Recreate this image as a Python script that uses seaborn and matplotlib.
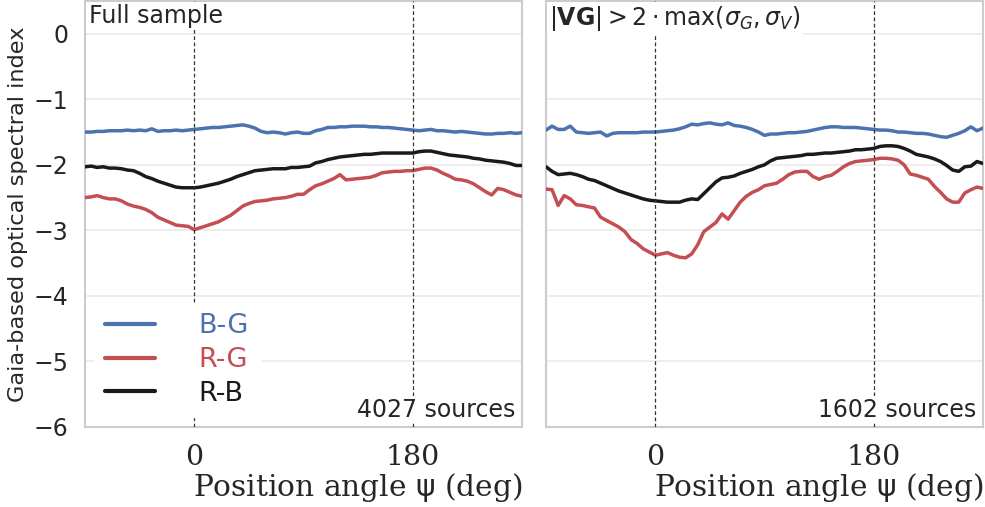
import matplotlib
matplotlib.use("Agg")
import matplotlib.pyplot as plt
import numpy as np
import seaborn as sns

# position angle grid (deg), one value every 5 deg
ANGLE = np.arange(-90, 271, 5)

# Full sample
full_bg = [-1.50, -1.50, -1.49, -1.49, -1.48, -1.48, -1.48, -1.47, -1.48, -1.47,
           -1.48, -1.45, -1.49, -1.48, -1.48, -1.47, -1.48, -1.47, -1.46, -1.45,
           -1.44, -1.43, -1.43, -1.42, -1.41, -1.40, -1.39, -1.41, -1.44, -1.49,
           -1.51, -1.50, -1.51, -1.53, -1.51, -1.50, -1.52, -1.52, -1.48, -1.46,
           -1.43, -1.43, -1.42, -1.42, -1.41, -1.41, -1.41, -1.42, -1.42, -1.43,
           -1.43, -1.44, -1.45, -1.46, -1.47, -1.48, -1.47, -1.46, -1.48, -1.48,
           -1.49, -1.50, -1.49, -1.50, -1.51, -1.52, -1.53, -1.53, -1.52, -1.52,
           -1.51, -1.52, -1.51]
full_rg = [-2.50, -2.49, -2.47, -2.50, -2.52, -2.52, -2.55, -2.60, -2.63, -2.65,
           -2.68, -2.73, -2.80, -2.84, -2.88, -2.92, -2.93, -2.94, -2.99, -2.96,
           -2.93, -2.90, -2.87, -2.82, -2.77, -2.70, -2.63, -2.59, -2.56, -2.55,
           -2.54, -2.52, -2.51, -2.50, -2.48, -2.45, -2.45, -2.38, -2.32, -2.29,
           -2.25, -2.21, -2.15, -2.23, -2.22, -2.21, -2.20, -2.19, -2.16, -2.12,
           -2.11, -2.10, -2.10, -2.09, -2.09, -2.07, -2.05, -2.05, -2.08, -2.13,
           -2.17, -2.22, -2.23, -2.25, -2.29, -2.35, -2.41, -2.46, -2.36, -2.38,
           -2.42, -2.46, -2.48]
full_rb = [-2.03, -2.02, -2.04, -2.03, -2.05, -2.05, -2.06, -2.08, -2.09, -2.13,
           -2.18, -2.21, -2.25, -2.28, -2.31, -2.34, -2.35, -2.35, -2.35, -2.34,
           -2.32, -2.30, -2.28, -2.25, -2.22, -2.18, -2.15, -2.12, -2.09, -2.08,
           -2.07, -2.06, -2.06, -2.06, -2.04, -2.04, -2.03, -2.02, -1.97, -1.95,
           -1.92, -1.90, -1.88, -1.87, -1.86, -1.85, -1.84, -1.84, -1.83, -1.82,
           -1.82, -1.82, -1.82, -1.82, -1.82, -1.80, -1.79, -1.79, -1.81, -1.83,
           -1.85, -1.86, -1.87, -1.88, -1.90, -1.91, -1.93, -1.94, -1.95, -1.96,
           -1.98, -2.01, -2.01]

# |VG| > 2 max(sigma_G, sigma_V)
sel_bg = [-1.47, -1.41, -1.46, -1.46, -1.41, -1.50, -1.51, -1.52, -1.51, -1.50,
          -1.56, -1.52, -1.51, -1.51, -1.51, -1.51, -1.50, -1.50, -1.50, -1.49,
          -1.48, -1.47, -1.45, -1.42, -1.38, -1.39, -1.37, -1.36, -1.38, -1.39,
          -1.36, -1.40, -1.41, -1.43, -1.46, -1.50, -1.55, -1.53, -1.53, -1.52,
          -1.51, -1.51, -1.50, -1.49, -1.47, -1.45, -1.43, -1.42, -1.42, -1.43,
          -1.43, -1.43, -1.44, -1.45, -1.46, -1.47, -1.47, -1.48, -1.50, -1.50,
          -1.51, -1.52, -1.52, -1.53, -1.55, -1.57, -1.58, -1.55, -1.52, -1.48,
          -1.42, -1.48, -1.44]
sel_rg = [-2.37, -2.38, -2.62, -2.47, -2.52, -2.61, -2.62, -2.64, -2.66, -2.80,
          -2.85, -2.90, -2.95, -3.02, -3.14, -3.20, -3.28, -3.33, -3.38, -3.36,
          -3.34, -3.38, -3.41, -3.42, -3.36, -3.22, -3.02, -2.95, -2.88, -2.75,
          -2.83, -2.70, -2.57, -2.48, -2.42, -2.38, -2.32, -2.30, -2.28, -2.22,
          -2.15, -2.11, -2.10, -2.10, -2.18, -2.22, -2.18, -2.16, -2.10, -2.03,
          -1.98, -1.95, -1.94, -1.93, -1.92, -1.90, -1.90, -1.91, -1.93, -2.00,
          -2.14, -2.16, -2.19, -2.22, -2.33, -2.42, -2.52, -2.57, -2.57, -2.43,
          -2.38, -2.34, -2.36]
sel_rb = [-2.03, -2.10, -2.15, -2.14, -2.13, -2.15, -2.18, -2.22, -2.24, -2.28,
          -2.32, -2.36, -2.40, -2.43, -2.46, -2.49, -2.52, -2.54, -2.55, -2.56,
          -2.57, -2.57, -2.57, -2.54, -2.52, -2.53, -2.44, -2.35, -2.26, -2.20,
          -2.19, -2.17, -2.13, -2.10, -2.07, -2.03, -2.00, -1.94, -1.90, -1.89,
          -1.88, -1.87, -1.86, -1.84, -1.84, -1.83, -1.82, -1.82, -1.81, -1.80,
          -1.79, -1.77, -1.77, -1.76, -1.75, -1.72, -1.71, -1.71, -1.72, -1.75,
          -1.79, -1.84, -1.86, -1.88, -1.91, -1.95, -2.01, -2.08, -2.10, -2.03,
          -2.02, -1.95, -1.98]

LABELS = ["B-G", "R-G", "R-B"]
PANEL_TITLES = ["Full sample", r"$|\mathbf{VG}| > 2\cdot\mathrm{max}(\sigma_G, \sigma_V)$"]
N_SOURCES = ["4027 sources", "1602 sources"]
X_TICKS = [0, 180]

sns.set_theme(style="whitegrid")
plt.rcParams["font.family"] = ["DejaVu Sans"]
pal = sns.color_palette("deep")
colors = [pal[0], pal[3], "#1a1a1a"]

fig = plt.figure(figsize=(9.85, 5.07), dpi=100)
ax1 = fig.add_axes([0.0863, 0.158, 0.4437, 0.84])
ax2 = fig.add_axes([0.5543, 0.158, 0.4437, 0.84], sharey=ax1)

panels = [(ax1, [full_bg, full_rg, full_rb]), (ax2, [sel_bg, sel_rg, sel_rb])]
for i, (ax, series) in enumerate(panels):
    for vals, lab, c in zip(series, LABELS, colors):
        sns.lineplot(x=ANGLE, y=vals, ax=ax, color=c, lw=2.5, label=lab, zorder=3)
    for xv in X_TICKS:
        ax.axvline(xv, color="#333333", lw=0.9, ls=(0, (3, 2)), zorder=4)
    ax.set_xlim(-90, 270)
    ax.set_ylim(-6, 0.5)
    ax.set_xticks(X_TICKS)
    ax.set_xticklabels([str(t) for t in X_TICKS], family="DejaVu Serif", fontsize=20.5)
    ax.grid(False, axis="x")
    ax.grid(True, axis="y", color="#ebebeb", lw=1.2)
    for sp in ax.spines.values():
        sp.set_color("#cccccc")
        sp.set_linewidth(1.5)
    ax.set_xlabel(r"Position angle $\mathrm{\psi}$ (deg)", family="DejaVu Serif",
                  fontsize=21.3, labelpad=0, loc="right")
    ax.tick_params(axis="x", pad=6)
    ax.text(0.008, 0.993, PANEL_TITLES[i], transform=ax.transAxes, ha="left", va="top",
            fontsize=17, color="#262626", zorder=5,
            bbox=dict(fc="white", ec="none", pad=1.5))
    ax.text(0.985, 0.012, N_SOURCES[i], transform=ax.transAxes, ha="right", va="bottom",
            fontsize=17, color="#262626", zorder=5,
            bbox=dict(fc="white", ec="none", pad=1.0))

ax1.set_yticks(np.arange(-6, 1, 1))
ax1.tick_params(axis="y", labelsize=17, pad=6)
ax1.set_ylabel("Gaia-based optical spectral index", fontsize=16.2, labelpad=4)
ax2.tick_params(axis="y", labelleft=False)
ax2.set_ylabel("")

leg = ax1.legend(loc="lower left", fontsize=19.5, handlelength=1.85, handletextpad=1.6,
                 labelspacing=0.28, frameon=True, facecolor="white", edgecolor="white",
                 framealpha=1, borderaxespad=0.35, labelcolor="linecolor")
for ln in leg.get_lines():
    ln.set_linewidth(3)
ax2.get_legend().remove()

fig.savefig("out.png", dpi=100)
